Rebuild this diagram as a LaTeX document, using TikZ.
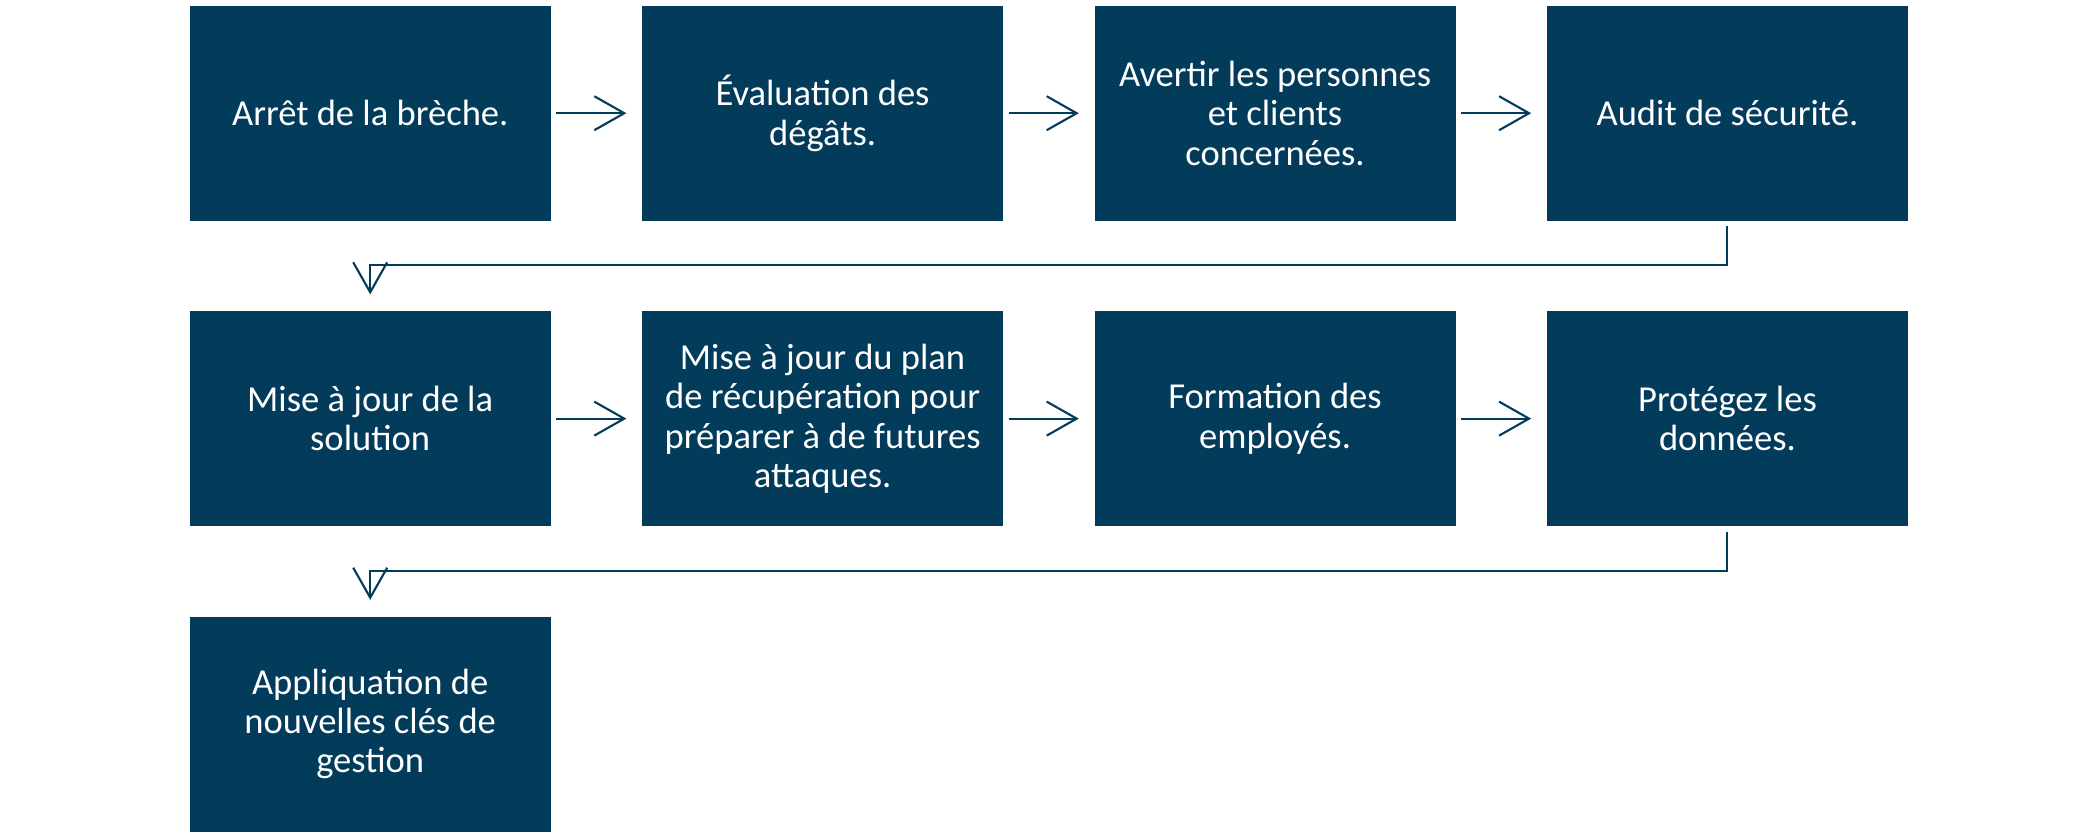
\documentclass[tikz,border=0pt]{standalone}
\usepackage{fontspec}
\setmainfont{Carlito}
\usepackage{xcolor}
\usepackage{tikz}
\usetikzlibrary{arrows.meta, positioning}
\definecolor{stepblue}{HTML}{033B5A}
\tikzset{
    stepbox/.style={rectangle, fill=stepblue, text=white, inner sep=0pt, minimum height=2.15cm, minimum width=3.61cm, align=center, font=\fontsize{10.4}{11.2}\selectfont},
}

\begin{document}
\begin{tikzpicture}[
      node distance=0.89cm and 0.9cm,
      arrow/.style={-{Straight Barb[length=0.3cm, width=0.34cm]}, draw=stepblue, line width=0.6pt, shorten <=0.05cm},
    ]
    \useasboundingbox (0,0) rectangle (20.9,-8.33);

    % first row
    \node[stepbox, anchor=north west] (arret) at (1.89,-0.05) {Arrêt de la brèche.};
    \node[stepbox, right=of arret] (evaluation) {Évaluation des\\dégâts.};
    \node[stepbox, right=of evaluation] (avertir) {Avertir les personnes\\et clients\\concernées.};
    \node[stepbox, right=of avertir] (audit) {Audit de sécurité.};

    % second row
    \node[stepbox, below=of arret] (solution) {Mise à jour de la\\solution};
    \node[stepbox, right=of solution] (plan) {Mise à jour du plan\\de récupération pour\\préparer à de futures\\attaques.};
    \node[stepbox, right=of plan] (formation) {Formation des\\employés.};
    \node[stepbox, right=of formation] (donnees) {Protégez les\\données.};

    % third row
    \node[stepbox, below=of solution] (cles) {Appliquation de\\nouvelles clés de\\gestion};

    \draw[arrow, shorten >=0.15cm] (arret) -- (evaluation);
    \draw[arrow, shorten >=0.15cm] (evaluation) -- (avertir);
    \draw[arrow, shorten >=0.15cm] (avertir) -- (audit);
    \draw[arrow, shorten >=0.16cm] (audit.south) -- ++(0,-0.44) -| (solution.north);

    \draw[arrow, shorten >=0.15cm] (solution) -- (plan);
    \draw[arrow, shorten >=0.15cm] (plan) -- (formation);
    \draw[arrow, shorten >=0.15cm] (formation) -- (donnees);
    \draw[arrow, shorten >=0.16cm] (donnees.south) -- ++(0,-0.44) -| (cles.north);

    \end{tikzpicture}
\end{document}
